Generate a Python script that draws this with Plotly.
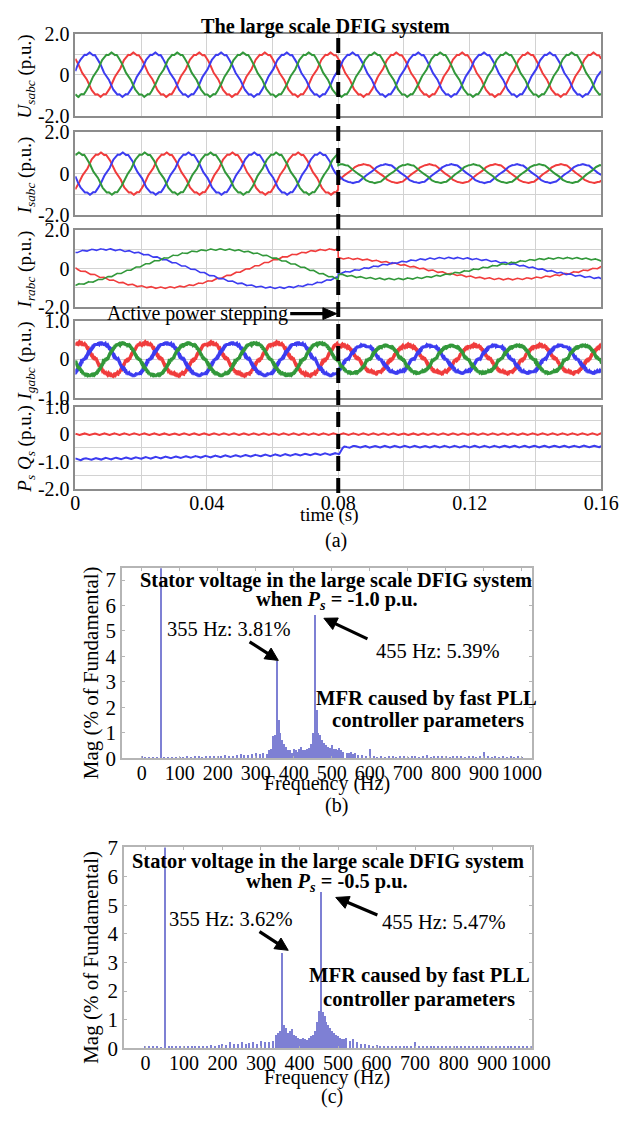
import numpy as np
import plotly.graph_objects as go

REF_W, H = 620, 1121
W = 638
FONT = "Liberation Serif"
RED, BLUE, GREEN = "#f03c3c", "#3c3cf0", "#32983a"
BAR = "#7e80d4"

# ---------------- time-domain data ----------------
T_END = 0.16
STEP_T = 0.08
PHASE_COLORS = [RED, BLUE, GREEN]

U_FREQ_HZ = 50
U_PHASES_DEG = [44, -76, 164]          # red, blue, green at t=0
U_AMPL = [1.05, 1.05]                  # before / after step
U_HARM_ORDER = [5, 7, 11, 13]
U_HARM_AMPL = [-0.04, 0.03, 0.025, 0.02]

IS_FREQ_HZ = 50
IS_PHASES_DEG = [-138, 102, -18]
IS_AMPL = [1.0, 0.45]
IS_HARM_ORDER = [5, 7, 11, 13]
IS_HARM_AMPL = [-0.04, 0.03, 0.025, 0.02]

IR_FREQ_HZ = 9.5
IR_PHASES_DEG = [90, -30, -150]
IR_AMPL = [1.0, 0.55]
IR_RIPPLE_HZ = 350
IR_RIPPLE_AMPL = 0.045

IG_FREQ_HZ = 50
IG_PHASES_DEG = [-18, -138, 102]
IG_AMPL = [0.42, 0.36]
IG_HARM_ORDER = [5, 7, 11]
IG_HARM_AMPL = [-0.04, 0.03, 0.03]
IG_RIPPLE_HZ = 2500
IG_RIPPLE_AMPL = 0.02

PS_TIMES = [0.0, 0.0801, 0.0815, 0.083, 0.16]
PS_LEVELS = [-0.92, -0.72, -0.5, -0.46, -0.45]
QS_LEVEL = 0.0
PQ_RIPPLE_HZ = 330
PQ_RIPPLE_AMPL = 0.035

# ---------------- spectrum data ----------------
SPEC_FREQ = list(range(0, 1001, 10))
SPEC_B_MAG = [0.06, 0.05, 0.04, 0.03, 0.03, 100, 0.03, 0.04, 0.05, 0.04,
              0.05, 0.04, 0.06, 0.05, 0.07, 0.06, 0.05, 0.07, 0.08, 0.06,
              0.07, 0.08, 0.10, 0.08, 0.09, 0.12, 0.15, 0.13, 0.11, 0.16,
              0.18, 0.15, 0.20, 0.17, 0.35, 0.90, 1.50, 0.70, 0.45, 0.30,
              0.35, 0.25, 0.45, 0.30, 0.40, 1.00, 1.90, 0.90, 0.60, 0.45,
              0.50, 0.35, 0.40, 0.25, 0.20, 0.25, 0.18, 0.12, 0.10, 0.08,
              0.35, 0.06, 0.05, 0.07, 0.05, 0.06, 0.08, 0.05, 0.06, 0.07,
              0.05, 0.06, 0.08, 0.05, 0.06, 0.10, 0.05, 0.07, 0.06, 0.08,
              0.06, 0.05, 0.07, 0.06, 0.08, 0.05, 0.06, 0.07, 0.05, 0.09,
              0.22, 0.06, 0.05, 0.07, 0.05, 0.06, 0.05, 0.07, 0.05, 0.06, 0.05]
SPEC_B_EXTRA_FREQ = [335, 345, 355, 365, 375, 385, 395, 405, 415, 425, 435,
                     445, 455, 465, 475, 485, 495, 505, 515, 525, 545, 555]
SPEC_B_EXTRA_MAG = [0.30, 0.85, 3.81, 1.00, 0.55, 0.30, 0.20, 0.30, 0.35, 0.30, 0.35,
                    0.55, 5.60, 1.00, 0.70, 0.50, 0.40, 0.35, 0.30, 0.30, 0.20, 0.15]

SPEC_C_MAG = [0.05, 0.04, 0.03, 0.03, 0.02, 100, 0.04, 0.05, 0.04, 0.05,
              0.06, 0.05, 0.05, 0.07, 0.06, 0.08, 0.07, 0.10, 0.08, 0.10,
              0.12, 0.10, 0.20, 0.12, 0.15, 0.20, 0.12, 0.18, 0.22, 0.15,
              0.25, 0.20, 0.22, 0.25, 0.45, 0.60, 0.80, 0.50, 0.65, 0.40,
              0.30, 0.35, 0.28, 0.40, 0.60, 1.30, 1.25, 0.90, 0.70, 0.50,
              0.40, 0.30, 0.35, 0.25, 0.30, 0.20, 0.15, 0.12, 0.10, 0.08,
              0.10, 0.07, 0.06, 0.08, 0.06, 0.07, 0.05, 0.06, 0.08, 0.06,
              0.20, 0.06, 0.07, 0.05, 0.08, 0.06, 0.05, 0.07, 0.06, 0.05,
              0.07, 0.06, 0.08, 0.05, 0.06, 0.07, 0.05, 0.06, 0.05, 0.07,
              0.06, 0.05, 0.06, 0.05, 0.06, 0.05, 0.05, 0.06, 0.05, 0.04, 0.05]
SPEC_C_EXTRA_FREQ = [345, 355, 365, 375, 385, 395, 405, 415, 425, 435,
                     445, 455, 465, 475, 485, 495, 505, 515]
SPEC_C_EXTRA_MAG = [0.50, 3.30, 0.70, 0.60, 0.45, 0.35, 0.30, 0.30, 0.35, 0.45,
                    0.90, 5.45, 1.10, 0.80, 0.60, 0.45, 0.35, 0.30]

# ---------------- helpers ----------------
t = np.linspace(0, T_END, 3201)


def px(x):
    return x / REF_W


def py(y):
    return 1 - y / H


def three_phase(freq, phases, ampl, orders=(), harm=(), rip_hz=None, rip_amp=0.0):
    amp = np.where(t < STEP_T, ampl[0], ampl[1])
    res = []
    for k, ph in enumerate(phases):
        th = 2 * np.pi * freq * t + np.deg2rad(ph)
        y = np.cos(th)
        for n, a in zip(orders, harm):
            y = y + a * np.cos(n * th)
        y = amp * y
        if rip_hz:
            y = y + rip_amp * np.cos(2 * np.pi * rip_hz * t + k * 2.1)
        res.append(y)
    return res


U = three_phase(U_FREQ_HZ, U_PHASES_DEG, U_AMPL, U_HARM_ORDER, U_HARM_AMPL)
IS = three_phase(IS_FREQ_HZ, IS_PHASES_DEG, IS_AMPL, IS_HARM_ORDER, IS_HARM_AMPL)
IR = three_phase(IR_FREQ_HZ, IR_PHASES_DEG, IR_AMPL, (), (), IR_RIPPLE_HZ, IR_RIPPLE_AMPL)
IG = three_phase(IG_FREQ_HZ, IG_PHASES_DEG, IG_AMPL, IG_HARM_ORDER, IG_HARM_AMPL,
                 IG_RIPPLE_HZ, IG_RIPPLE_AMPL)
PS = np.interp(t, PS_TIMES, PS_LEVELS) + PQ_RIPPLE_AMPL * np.cos(2 * np.pi * PQ_RIPPLE_HZ * t)
QS = QS_LEVEL + PQ_RIPPLE_AMPL * np.cos(2 * np.pi * PQ_RIPPLE_HZ * t + 1.0)

fig = go.Figure()

panels = [
    dict(top=23, bot=107, data=U, width=2.0, rng=[-2, 2],
         tv=[-2, -1, 0, 1, 2], tt=["-2.0", "", "0", "", "2.0"],
         title="<i>U</i><sub><i>sabc</i></sub> (p.u.)", ty=67),
    dict(top=124, bot=208, data=IS, width=2.0, rng=[-2, 2],
         tv=[-2, -1, 0, 1, 2], tt=["-2.0", "", "0", "", "2.0"],
         title="<i>I</i><sub><i>sabc</i></sub> (p.u.)", ty=168),
    dict(top=224, bot=302, data=IR, width=1.6, rng=[-2, 2],
         tv=[-2, -1, 0, 1, 2], tt=["-2.0", "", "0", "", "2.0"],
         title="<i>I</i><sub><i>rabc</i></sub> (p.u.)", ty=264),
    dict(top=316, bot=395, data=IG, width=3.4, rng=[-1, 1],
         tv=[-1, -0.5, 0, 0.5, 1], tt=["-1.0", "", "0", "", "1.0"],
         title="<i>I</i><sub><i>gabc</i></sub> (p.u.)", ty=357),
    dict(top=404, bot=488, data=None, width=2.0, rng=[-2, 1],
         tv=[-2, -1.5, -1, -0.5, 0, 0.5, 1], tt=["-2.0", "", "-1.0", "", "0", "", "1.0"],
         title="<i>P</i><sub><i>s</i></sub> <i>Q</i><sub><i>s</i></sub> (p.u.)", ty=447),
]

xt_vals = [0, 0.02, 0.04, 0.06, 0.08, 0.10, 0.12, 0.14, 0.16]
xt_text = ["0", "", "0.04", "", "0.08", "", "0.12", "", "0.16"]

annotations = []
shapes = []
for i, p in enumerate(panels, start=1):
    xa = "xaxis" if i == 1 else f"xaxis{i}"
    ya = "yaxis" if i == 1 else f"yaxis{i}"
    xr = "x" if i == 1 else f"x{i}"
    yr = "y" if i == 1 else f"y{i}"
    if p["data"] is not None:
        for y, c in zip(p["data"], PHASE_COLORS):
            fig.add_trace(go.Scatter(x=t, y=y, mode="lines", xaxis=xr, yaxis=yr,
                                     line=dict(color=c, width=p["width"]), showlegend=False))
    else:
        fig.add_trace(go.Scatter(x=t, y=QS, mode="lines", xaxis=xr, yaxis=yr,
                                 line=dict(color=RED, width=2), showlegend=False))
        fig.add_trace(go.Scatter(x=t, y=PS, mode="lines", xaxis=xr, yaxis=yr,
                                 line=dict(color=BLUE, width=2), showlegend=False))
    fig.layout[xa] = dict(domain=[px(71), px(602)], range=[0, T_END], anchor=yr,
                          tickvals=xt_vals, ticktext=xt_text, showticklabels=(i == 5),
                          showgrid=True, gridcolor="#d2d2d2", gridwidth=1.2, zeroline=False,
                          showline=True, mirror=True, linecolor="#8c8c8c", linewidth=1.5,
                          ticks="", ticklabelstandoff=-5, tickangle=0,
                          tickfont=dict(family=FONT, size=20, color="black"))
    fig.layout[ya] = dict(domain=[py(p["bot"]), py(p["top"])], range=p["rng"], anchor=xr,
                          tickvals=p["tv"], ticktext=p["tt"],
                          showgrid=True, gridcolor="#d2d2d2", gridwidth=1.2, zeroline=False,
                          showline=True, mirror=True, linecolor="#8c8c8c", linewidth=1.5,
                          ticks="", tickfont=dict(family=FONT, size=20, color="black"))
    annotations.append(dict(text=p["title"], x=px(21), y=py(p["ty"]), xref="paper", yref="paper",
                            textangle=-90, showarrow=False, xanchor="center", yanchor="middle",
                            font=dict(family=FONT, size=19, color="black")))

# ---------------- spectra ----------------
specs = [
    dict(idx=6, left=118, right=532, top=569, bot=763, rng=[0, 7.46], xr=[-52, 1026],
         mag=SPEC_B_MAG, ef=SPEC_B_EXTRA_FREQ, em=SPEC_B_EXTRA_MAG),
    dict(idx=7, left=120, right=532, top=854, bot=1059, rng=[0, 7.02], xr=[-56, 1003],
         mag=SPEC_C_MAG, ef=SPEC_C_EXTRA_FREQ, em=SPEC_C_EXTRA_MAG),
]
for s in specs:
    i = s["idx"]
    xr, yr = f"x{i}", f"y{i}"
    fig.add_trace(go.Bar(x=SPEC_FREQ + s["ef"], y=s["mag"] + s["em"], xaxis=xr, yaxis=yr,
                         width=3.5, marker=dict(color=BAR, line=dict(width=0)),
                         showlegend=False))
    fig.layout[f"xaxis{i}"] = dict(domain=[px(s["left"]), px(s["right"])], range=s["xr"],
                                   anchor=yr, tickvals=list(range(0, 1001, 100)), tickangle=0,
                                   showgrid=False, zeroline=False, showline=True, mirror="ticks",
                                   linecolor="#b5b5b5", linewidth=1.5, ticks="inside", ticklen=3,
                                   tickcolor="#b5b5b5", ticklabelstandoff=-4,
                                   tickfont=dict(family=FONT, size=20, color="black"))
    fig.layout[f"yaxis{i}"] = dict(domain=[py(s["bot"]), py(s["top"])], range=s["rng"],
                                   anchor=xr, tickvals=list(range(0, 8)),
                                   showgrid=False, zeroline=False, showline=True, mirror="ticks",
                                   linecolor="#b5b5b5", linewidth=1.5, ticks="inside", ticklen=3,
                                   tickcolor="#b5b5b5",
                                   tickfont=dict(family=FONT, size=21, color="black"))
    cy = (s["top"] + s["bot"]) / 2 + 10
    annotations.append(dict(text="Mag (% of Fundamental)", x=px(87), y=py(cy), xref="paper",
                            yref="paper", textangle=-90, showarrow=False,
                            xanchor="center", yanchor="middle",
                            font=dict(family=FONT, size=21, color="black")))


def txt(text, x, y, size=20, bold=False):
    if bold:
        text = "<b>" + text + "</b>"
    annotations.append(dict(text=text, x=px(x), y=py(y), xref="paper", yref="paper",
                            showarrow=False, xanchor="center", yanchor="middle",
                            font=dict(family=FONT, size=size, color="black")))


def arrow(hx, hy, tx, ty, head=13, half=6.5, width=3.2):
    dx, dy = hx - tx, hy - ty
    n = (dx * dx + dy * dy) ** 0.5
    ux, uy = dx / n, dy / n
    bx, by = hx - ux * head, hy - uy * head
    nx, ny = -uy, ux
    shapes.append(dict(type="line", xref="paper", yref="paper",
                       x0=px(tx), y0=py(ty), x1=px(bx + ux), y1=py(by + uy),
                       line=dict(color="black", width=width)))
    path = (f"M {px(hx)},{py(hy)} L {px(bx + nx * half)},{py(by + ny * half)} "
            f"L {px(bx - nx * half)},{py(by - ny * half)} Z")
    shapes.append(dict(type="path", xref="paper", yref="paper", path=path,
                       fillcolor="black", line=dict(color="black", width=1)))


txt("The large scale DFIG system", 324, 16, 20.3, True)
txt("Active power stepping", 194, 309, 20)
arrow(335, 309, 288, 309, head=14, half=6)
txt("time (s)", 328, 515, 19)
txt("(a)", 334, 541, 20)

txt("Stator voltage in the large scale DFIG system", 334, 581, 20.4, True)
txt("when <i>P</i><sub><i>s</i></sub> = -1.0 p.u.", 335, 602, 20.4, True)
txt("355 Hz: 3.81%", 226, 631, 20.5)
arrow(276, 663, 247, 644)
txt("455 Hz: 5.39%", 437, 653, 20.5)
arrow(322, 620, 366, 641)
txt("MFR caused by fast PLL", 426, 702, 20.6, True)
txt("controller parameters", 427, 724, 20.6, True)
txt("Frequency (Hz)", 325, 789, 20)
txt("(b)", 335, 811, 20)

txt("Stator voltage in the large scale DFIG system", 326, 868, 20.4, True)
txt("when <i>P</i><sub><i>s</i></sub> = -0.5 p.u.", 325, 890, 20.4, True)
txt("355 Hz: 3.62%", 228, 927, 20.5)
arrow(286, 959, 257, 940)
txt("455 Hz: 5.47%", 443, 930, 20.5)
arrow(334, 905, 376, 923)
txt("MFR caused by fast PLL", 419, 985, 20.6, True)
txt("controller parameters", 418, 1009, 20.6, True)
txt("Frequency (Hz)", 325, 1089, 20)
txt("(c)", 330, 1108, 20)

shapes.append(dict(type="line", xref="x", yref="paper", x0=STEP_T, x1=STEP_T,
                   y0=py(492), y1=py(27), line=dict(color="black", width=4, dash="15px,7px")))

fig.update_layout(width=W, height=H, autosize=False, margin=dict(l=0, r=0, t=0, b=0),
                  paper_bgcolor="white", plot_bgcolor="white",
                  annotations=annotations, shapes=shapes, bargap=0, showlegend=False,
                  font=dict(family=FONT, color="black"))
fig.write_html("out.html", config={"responsive": False})
